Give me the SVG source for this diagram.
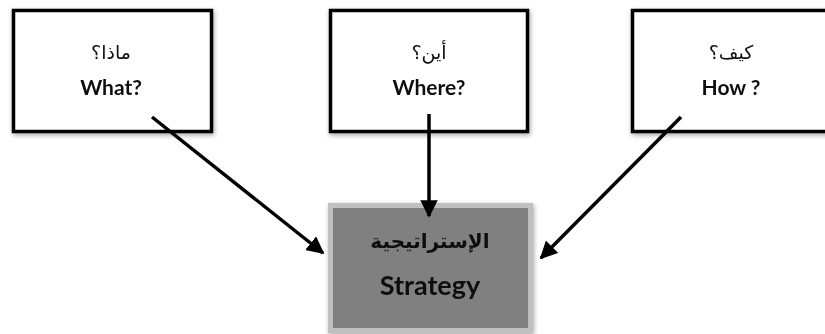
<svg xmlns="http://www.w3.org/2000/svg" width="825" height="334" viewBox="0 0 825 334">
  <defs>
    <filter id="shadow" x="-10%" y="-10%" width="120%" height="125%">
      <feGaussianBlur in="SourceAlpha" stdDeviation="2.5"/>
      <feOffset dx="1" dy="2" result="b"/>
      <feComponentTransfer><feFuncA type="linear" slope="0.35"/></feComponentTransfer>
      <feMerge><feMergeNode/><feMergeNode in="SourceGraphic"/></feMerge>
    </filter>
    <marker id="arrow" viewBox="0 0 10 10" refX="9" refY="5" markerWidth="5" markerHeight="5" markerUnits="strokeWidth" orient="auto">
      <path d="M0,0 L10,5 L0,10 Z" fill="#000"/>
    </marker>
  </defs>
  <style>
    .box { fill: #ffffff; stroke: #000000; stroke-width: 3.5; }
    .core { fill: #808080; stroke: #c0c0c0; stroke-width: 5; }
    .ar { font-family: "DejaVu Sans", "Noto Sans", sans-serif; font-size: 19px; fill: #111; text-anchor: middle; }
    .en { font-family: Lato, "Open Sans", sans-serif; font-weight: bold; font-size: 21px; fill: #111; text-anchor: middle; }
    .ar-big { font-family: "DejaVu Sans", "Noto Sans", sans-serif; font-weight: bold; font-size: 20px; fill: #111; text-anchor: middle; }
    .en-big { font-family: Lato, "Open Sans", sans-serif; font-weight: bold; font-size: 27px; fill: #111; text-anchor: middle; }
    .link { stroke: #000; stroke-width: 3.5; fill: none; marker-end: url(#arrow); }
  </style>
  <rect width="825" height="334" fill="#ffffff"/>

  <g id="what" filter="url(#shadow)">
    <rect class="box" x="13.5" y="10.5" width="198" height="121"/>
    <text class="ar" x="111" y="59">ماذا؟</text>
    <text class="en" x="111" y="95">What?</text>
  </g>

  <g id="where" filter="url(#shadow)">
    <rect class="box" x="330.5" y="10.5" width="197" height="121"/>
    <text class="ar" x="429" y="59">أين؟</text>
    <text class="en" x="429" y="95">Where?</text>
  </g>

  <g id="how" filter="url(#shadow)">
    <rect class="box" x="632.5" y="10.5" width="196" height="121"/>
    <text class="ar" x="731" y="59">كيف؟</text>
    <text class="en" x="731" y="95">How ?</text>
  </g>

  <g id="strategy" filter="url(#shadow)">
    <rect class="core" x="330.5" y="205.5" width="200" height="125"/>
    <text class="ar-big" x="430" y="248">الإستراتيجية</text>
    <text class="en-big" x="430" y="295">Strategy</text>
  </g>

  <g id="connectors">
    <line class="link" x1="152" y1="117" x2="323" y2="253"/>
    <line class="link" x1="429" y1="114" x2="429" y2="216"/>
    <line class="link" x1="681" y1="117" x2="541" y2="258"/>
  </g>
</svg>
